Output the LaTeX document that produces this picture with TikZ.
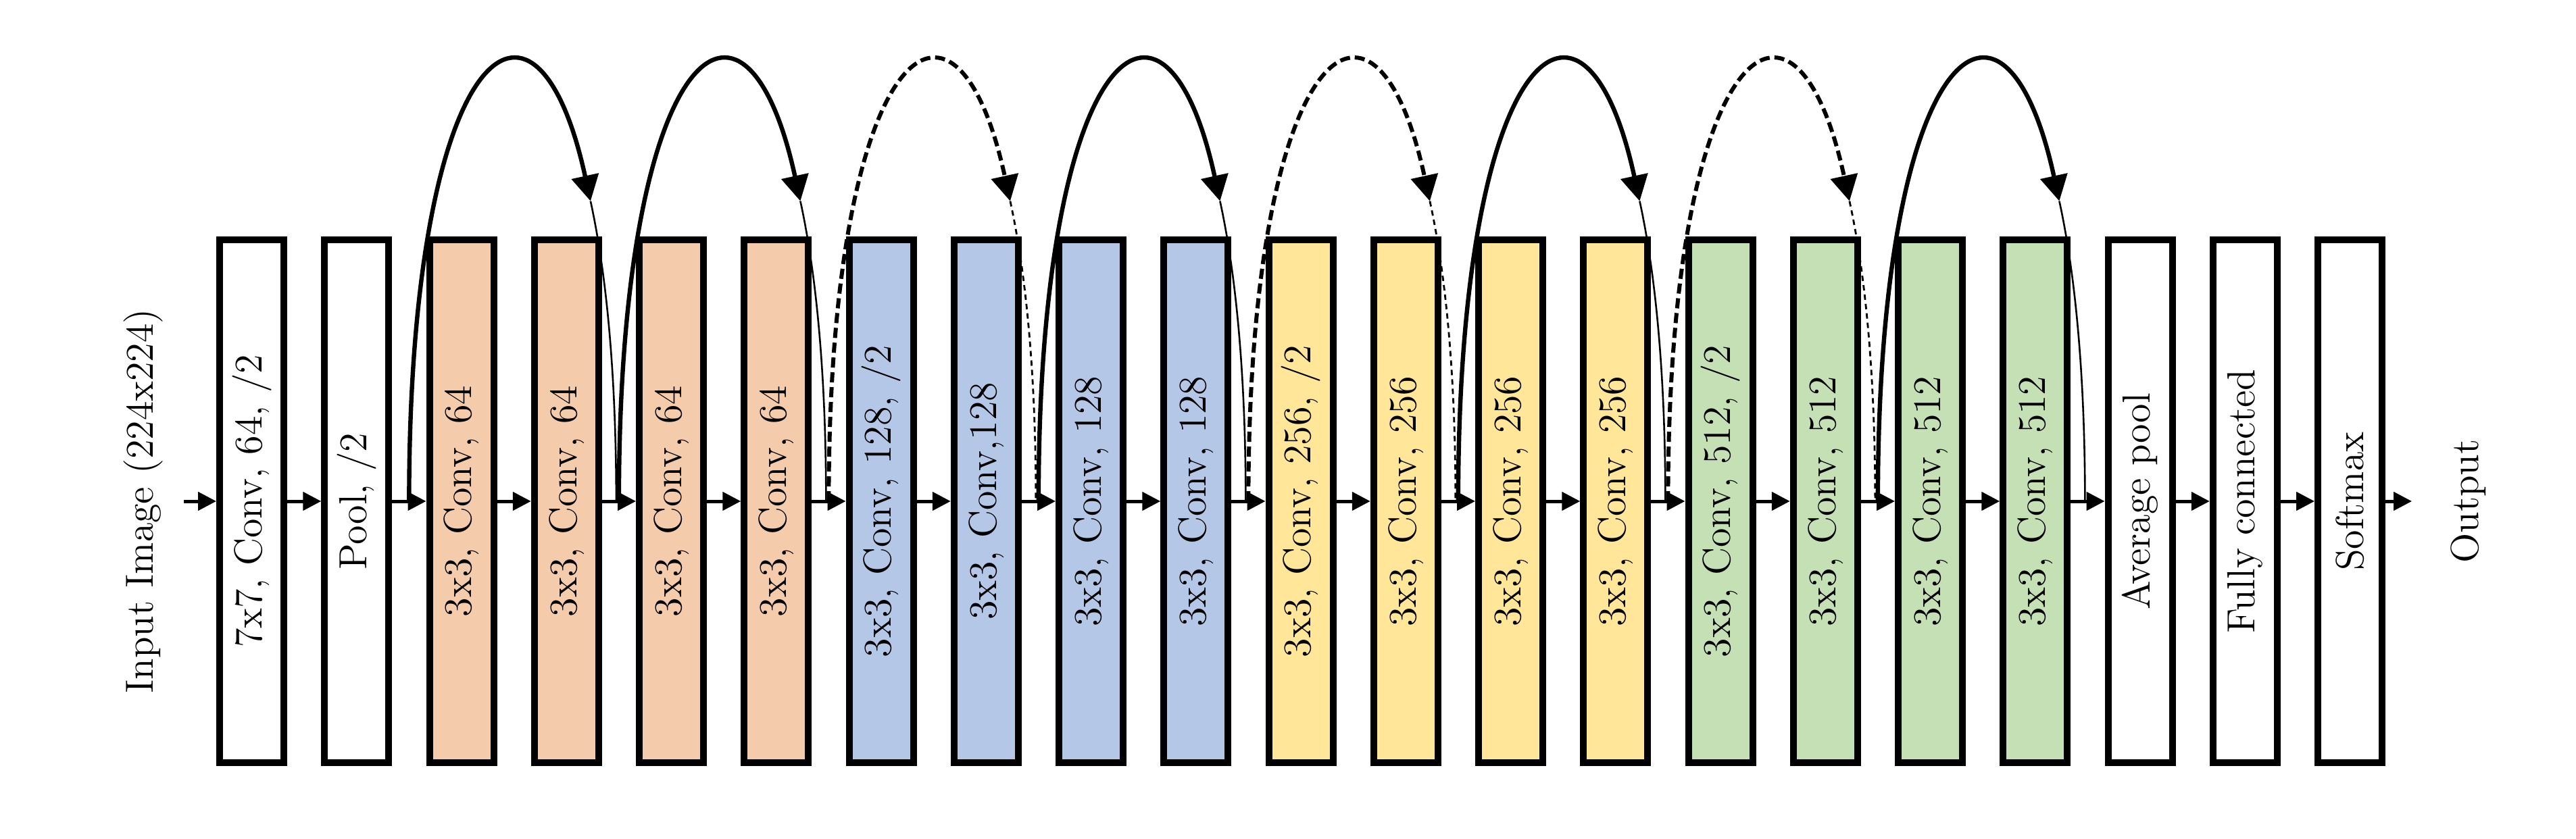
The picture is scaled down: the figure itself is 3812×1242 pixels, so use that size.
\documentclass[tikz,border=0pt]{standalone}
\usetikzlibrary{arrows.meta,calc}
\definecolor{cOrange}{HTML}{F4CCAC}
\definecolor{cBlue}{HTML}{B4C7E7}
\definecolor{cYellow}{HTML}{FFE699}
\definecolor{cGreen}{HTML}{C5E0B4}
\tikzset{
  box/.style={draw=black, line width=2.5pt, minimum width=23.75pt, minimum height=193.5pt, inner sep=0pt},
  lbl/.style={rotate=90, font=\fontsize{14.5pt}{17pt}\selectfont, inner sep=0pt, text=black},
  flow/.style={line width=1.25pt, -{Triangle[length=6.75pt,width=6.75pt]}},
  skipsolid/.style={line width=1.6pt, -{Triangle[length=9.5pt,width=10pt]}},
  skipsolidthin/.style={line width=0.65pt},
  skipdash/.style={line width=1.5pt, dash pattern=on 3.75pt off 1.75pt, -{Triangle[length=9.5pt,width=10pt]}},
  skipdashthin/.style={line width=0.7pt, dash pattern=on 2pt off 1.5pt},
}
\newcommand\resarc[4]{%
  \coordinate (P0) at (#1);
  \coordinate (P3) at (#2);
  \coordinate (P1) at ($(P0)+(0,-863)$);
  \coordinate (P2) at ($(P3)+(0,-863)$);
  \coordinate (Q0) at ($(P0)!0.78!(P1)$);
  \coordinate (Q1) at ($(P1)!0.78!(P2)$);
  \coordinate (Q2) at ($(P2)!0.78!(P3)$);
  \coordinate (R0) at ($(Q0)!0.78!(Q1)$);
  \coordinate (R1) at ($(Q1)!0.78!(Q2)$);
  \coordinate (S) at ($(R0)!0.78!(R1)$);
  \draw[#3] (P0) .. controls (Q0) and (R0) .. (S);
  \draw[#4] (S) .. controls (R1) and (Q2) .. (P3);
}
\begin{document}
\begin{tikzpicture}[x=0.25pt,y=-0.25pt]
\useasboundingbox (0,0) rectangle (3812,1242);
\fill[white] (0,0) rectangle (3812,1242);

% boxes
\node[box, fill=white]   (b1)  at (372.5,742)  {};
\node[box, fill=white]   (b2)  at (527.75,742) {};
\node[box, fill=cOrange] (b3)  at (683,742)    {};
\node[box, fill=cOrange] (b4)  at (838.25,742) {};
\node[box, fill=cOrange] (b5)  at (993.5,742)  {};
\node[box, fill=cOrange] (b6)  at (1148.75,742) {};
\node[box, fill=cBlue]   (b7)  at (1304,742)   {};
\node[box, fill=cBlue]   (b8)  at (1459.25,742) {};
\node[box, fill=cBlue]   (b9)  at (1614.5,742) {};
\node[box, fill=cBlue]   (b10) at (1769.75,742) {};
\node[box, fill=cYellow] (b11) at (1925,742)   {};
\node[box, fill=cYellow] (b12) at (2080.25,742) {};
\node[box, fill=cYellow] (b13) at (2235.5,742) {};
\node[box, fill=cYellow] (b14) at (2390.75,742) {};
\node[box, fill=cGreen]  (b15) at (2546,742)   {};
\node[box, fill=cGreen]  (b16) at (2701.25,742) {};
\node[box, fill=cGreen]  (b17) at (2856.5,742) {};
\node[box, fill=cGreen]  (b18) at (3011.75,742) {};
\node[box, fill=white]   (b19) at (3167,742)   {};
\node[box, fill=white]   (b20) at (3322.25,742) {};
\node[box, fill=white]   (b21) at (3477.5,742) {};

% labels
\node[lbl] (tin) at (212,742) {Input Image (224x224)};
\node[lbl] (t1)  at (b1)  {7x7, Conv, 64, /2};
\node[lbl] (t2)  at (b2)  {Pool, /2};
\node[lbl] (t3)  at (b3)  {3x3, Conv, 64};
\node[lbl] (t4)  at (b4)  {3x3, Conv, 64};
\node[lbl] (t5)  at (b5)  {3x3, Conv, 64};
\node[lbl] (t6)  at (b6)  {3x3, Conv, 64};
\node[lbl] (t7)  at (b7)  {3x3, Conv, 128, /2};
\node[lbl] (t8)  at (b8)  {3x3, Conv,128};
\node[lbl] (t9)  at (b9)  {3x3, Conv, 128};
\node[lbl] (t10) at (b10) {3x3, Conv, 128};
\node[lbl] (t11) at (b11) {3x3, Conv, 256, /2};
\node[lbl] (t12) at (b12) {3x3, Conv, 256};
\node[lbl] (t13) at (b13) {3x3, Conv, 256};
\node[lbl] (t14) at (b14) {3x3, Conv, 256};
\node[lbl] (t15) at (b15) {3x3, Conv, 512, /2};
\node[lbl] (t16) at (b16) {3x3, Conv, 512};
\node[lbl] (t17) at (b17) {3x3, Conv, 512};
\node[lbl] (t18) at (b18) {3x3, Conv, 512};
\node[lbl] (t19) at (b19) {Average pool};
\node[lbl] (t20) at (b20) {Fully connected};
\node[lbl] (t21) at (b21) {Softmax};
\node[lbl] (tout) at (3653,742) {Output};

% flow arrows
\coordinate (inA) at (272,742);
\coordinate (outA) at (3569,742);
\draw[flow] (inA) -- (b1.west);
\foreach \a/\b in {1/2,2/3,3/4,4/5,5/6,6/7,7/8,8/9,9/10,10/11,11/12,12/13,13/14,14/15,15/16,16/17,17/18,18/19,19/20,20/21}
  \draw[flow] (b\a.east) -- (b\b.west);
\draw[flow] (b21.east) -- (outA);

% skip connection anchor points
\foreach \a/\b in {2/3,4/5,6/7,8/9,10/11,12/13,14/15,16/17,18/19}{
  \coordinate (s\a) at ($(b\a.east)!0.5!(b\b.west)$);
  \coordinate (e\a) at ($(s\a)+(-4,0)$);
}

% skip connections
\resarc{s2}{e4}{skipsolid}{skipsolidthin}
\resarc{s4}{e6}{skipsolid}{skipsolidthin}
\resarc{s6}{e8}{skipdash}{skipdashthin}
\resarc{s8}{e10}{skipsolid}{skipsolidthin}
\resarc{s10}{e12}{skipdash}{skipdashthin}
\resarc{s12}{e14}{skipsolid}{skipsolidthin}
\resarc{s14}{e16}{skipdash}{skipdashthin}
\resarc{s16}{e18}{skipsolid}{skipsolidthin}
\end{tikzpicture}
\end{document}
